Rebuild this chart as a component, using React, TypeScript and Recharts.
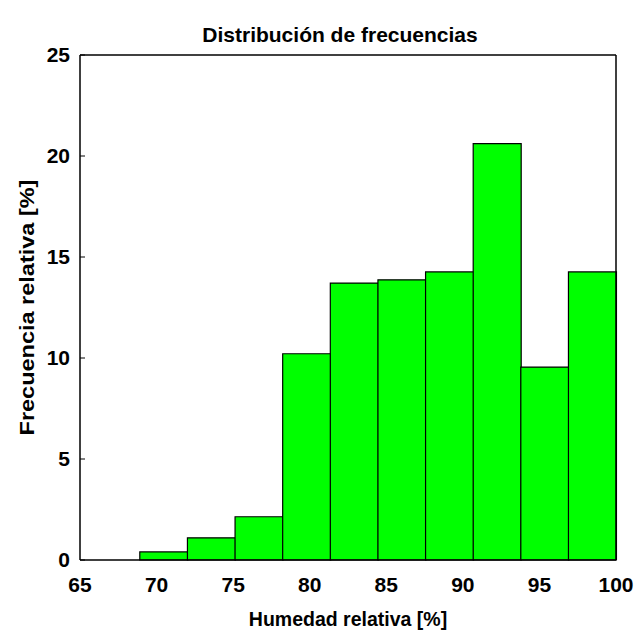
import React from "react";
import { BarChart, Bar, XAxis, YAxis, Label } from "recharts";

const FONT = "'Liberation Sans', Arial, Helvetica, sans-serif";

// histogram bins (centres, in % humidity) and relative frequencies
const binCenters = [70.46, 73.57, 76.68, 79.79, 82.9, 86.01, 89.12, 92.23, 95.34, 98.45];
const frequencies = [0.4, 1.1, 2.14, 10.21, 13.71, 13.87, 14.26, 20.61, 9.55, 14.26];
const xTicks = [65, 70, 75, 80, 85, 90, 95, 100];
const yTicks = [0, 5, 10, 15, 20, 25];

const data = binCenters.map((x, i) => ({ x, freq: frequencies[i] }));

const tickStyle = { fill: "#000", fontSize: 21, fontWeight: "bold", fontFamily: FONT };

const YTitle = ({ viewBox }: any) => {
  const cx = viewBox.x + 33.5;
  const cy = viewBox.y + viewBox.height / 2;
  return (
    <text
      transform={`translate(${cx},${cy}) scale(0.89,1) rotate(-90)`}
      textAnchor="middle"
      fill="#000"
      fontSize={23.5}
      fontWeight="bold"
      fontFamily={FONT}
    >
      Frecuencia relativa [%]
    </text>
  );
};

export default function App() {
  return (
    <div style={{ position: "absolute", left: 0, top: 0, width: 637, height: 634, background: "#fff" }}>
      <BarChart
        width={637}
        height={634}
        data={data}
        margin={{ top: 54, right: 20, bottom: 0, left: 0 }}
        barCategoryGap={0}
        barGap={0}
      >
        <text
          x={340}
          y={42}
          textAnchor="middle"
          fill="#000"
          fontSize={21}
          fontWeight="bold"
          fontFamily={FONT}
        >
          Distribución de frecuencias
        </text>
        <XAxis
          xAxisId="b"
          dataKey="x"
          type="number"
          domain={[65, 100]}
          ticks={xTicks}
          height={74}
          tickSize={-5}
          tickMargin={22}
          tick={tickStyle}
          axisLine={{ stroke: "#000", strokeWidth: 1.5 }}
          tickLine={false}
        >
          <Label
            value="Humedad relativa [%]"
            position="insideBottom"
            offset={8}
            fill="#000"
            fontSize={19.5}
            fontWeight="bold"
            fontFamily={FONT}
          />
        </XAxis>
        <XAxis
          xAxisId="t"
          orientation="top"
          type="number"
          domain={[65, 100]}
          ticks={xTicks}
          height={1}
          tickSize={-5}
          tick={false}
          axisLine={{ stroke: "#000", strokeWidth: 1.5 }}
          tickLine={{ stroke: "#000" }}
        />
        <YAxis
          yAxisId="l"
          type="number"
          domain={[0, 25]}
          ticks={yTicks}
          width={80}
          tickSize={-5}
          tickMargin={15}
          tick={tickStyle}
          axisLine={{ stroke: "#000", strokeWidth: 1.5 }}
          tickLine={{ stroke: "#000" }}
        >
          <Label content={<YTitle />} />
        </YAxis>
        <YAxis
          yAxisId="r"
          orientation="right"
          type="number"
          domain={[0, 25]}
          ticks={yTicks}
          width={1}
          tickSize={-5}
          tick={false}
          axisLine={{ stroke: "#000", strokeWidth: 1.5 }}
          tickLine={{ stroke: "#000" }}
        />
        <Bar
          xAxisId="b"
          yAxisId="l"
          dataKey="freq"
          fill="#00ff00"
          stroke="#000"
          strokeWidth={1.2}
          isAnimationActive={false}
        />
      </BarChart>
    </div>
  );
}
